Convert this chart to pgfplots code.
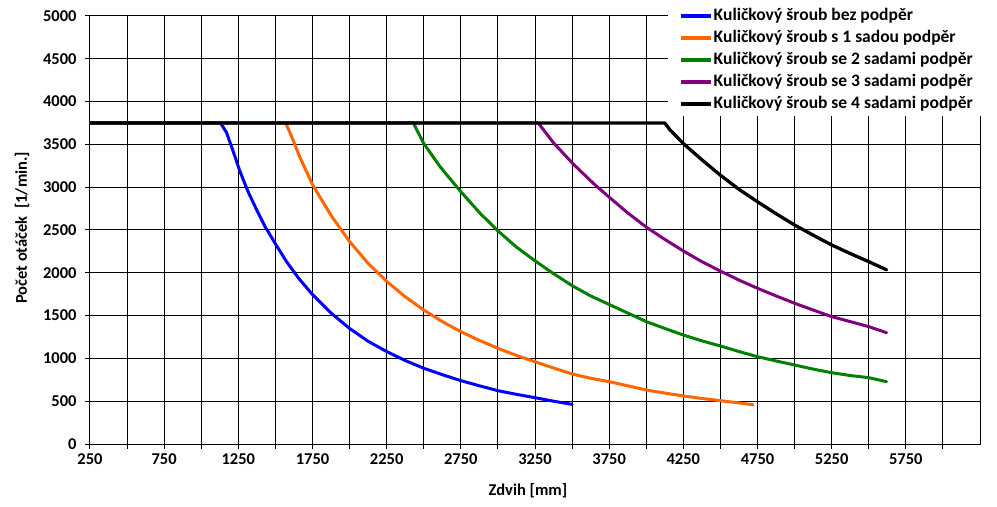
\documentclass[border=0pt]{standalone}
\usepackage{pgfplots}
\pgfplotsset{compat=1.18}
\usepackage{fontspec}
\setmainfont{Carlito}
\definecolor{cblue}{RGB}{0,0,255}
\definecolor{corange}{RGB}{255,102,0}
\definecolor{cgreen}{RGB}{0,128,0}
\definecolor{cpurple}{RGB}{128,0,128}
\begin{document}
\begin{tikzpicture}
\path[use as bounding box] (-90bp,-63bp) rectangle (907bp,444bp);
\begin{axis}[
  at={(0,0)}, anchor=south west,
  scale only axis, width=890bp, height=428bp,
  xmin=250, xmax=6250, ymin=0, ymax=5000,
  xtick={250,750,...,5750},
  minor xtick={500,1000,...,6250},
  ytick={0,500,...,5000},
  grid=both,
  major grid style={black, line width=1bp},
  minor grid style={black, line width=1bp},
  axis line style={black, line width=1bp},
  tick style={black, line width=1bp},
  tick align=outside,
  major tick length=5bp, minor tick length=5bp,
  xtick pos=bottom, ytick pos=left,
  /pgf/number format/1000 sep={},
  /pgf/number format/assume math mode=true,
  ticklabel style={font=\bfseries\fontsize{16.5bp}{19bp}\selectfont},
  yticklabel style={xshift=-5bp},
  xticklabel style={yshift=-1bp},
  label style={font=\bfseries\fontsize{16.5bp}{19bp}\selectfont},
  xlabel={Zdvih [mm]},
  ylabel={Počet otáček~~[1/min.]},
  x label style={at={(axis description cs:0.492,-0.11)}, anchor=center},
  y label style={at={(axis description cs:-0.0764,0.505)}, anchor=center},
  legend cell align=left,
  legend style={at={(axis description cs:1.0056,1.028)}, anchor=north east,
    fill=white, draw=none, font=\bfseries\fontsize{17.5bp}{20bp}\selectfont,
    inner xsep=11bp, inner ysep=3bp, row sep=4bp, column sep=0bp,
    nodes={inner xsep=1bp, inner ysep=1bp, text height=12bp, text depth=4bp}},
  legend image code/.code={\draw[#1, line width=4bp, line cap=butt] (0bp,0bp) -- (30bp,0bp);},
  every axis plot/.append style={line width=3bp, line join=round, line cap=round},
]
\addplot[cblue, mark=none] coordinates {
(250,3750)(1130,3750)(1170,3640)(1215,3420)(1260,3190)(1315,2950)(1375,2730)
(1430,2540)(1510,2310)(1575,2130)(1655,1940)(1750,1745)(1875,1530)(2000,1350)
(2125,1200)(2250,1080)(2375,975)(2500,885)(2625,810)(2750,740)(2875,680)
(3000,623)(3125,580)(3250,541)(3375,500)(3500,463)
};
\addlegendentry{Kuličkový šroub bez podpěr}
\addplot[corange, mark=none] coordinates {
(250,3750)(1570,3750)(1620,3545)(1665,3350)(1750,3030)(1875,2670)(2000,2365)
(2125,2110)(2250,1900)(2375,1720)(2500,1565)(2625,1430)(2750,1312)(2875,1210)
(3000,1118)(3125,1035)(3250,961)(3375,888)(3500,818)(3625,768)(3750,728)
(3875,680)(4000,631)(4125,595)(4250,561)(4375,532)(4500,506)(4625,480)(4720,458)
};
\addlegendentry{Kuličkový šroub s 1 sadou podpěr}
\addplot[cgreen, mark=none] coordinates {
(250,3750)(2430,3750)(2500,3510)(2610,3240)(2740,2967)(2880,2695)(3000,2490)
(3125,2300)(3250,2140)(3375,1990)(3500,1850)(3625,1730)(3750,1630)(3875,1530)
(4000,1430)(4125,1350)(4250,1273)(4375,1205)(4500,1145)(4625,1080)(4750,1020)
(4875,970)(5000,923)(5125,875)(5250,833)(5375,800)(5500,775)(5620,728)
};
\addlegendentry{Kuličkový šroub se 2 sadami podpěr}
\addplot[cpurple, mark=none] coordinates {
(250,3750)(3272,3750)(3374,3520)(3503,3279)(3643,3045)(3751,2882)(3875,2700)
(4003,2530)(4125,2390)(4250,2255)(4375,2130)(4500,2020)(4625,1915)(4750,1819)
(4875,1730)(5000,1644)(5125,1565)(5250,1488)(5375,1430)(5500,1371)(5620,1300)
};
\addlegendentry{Kuličkový šroub se 3 sadami podpěr}
\addplot[black, mark=none, line width=3.3bp] coordinates {
(250,3750)(4125,3750)(4160,3670)(4250,3510)(4375,3320)(4500,3140)(4625,2975)
(4750,2830)(4875,2690)(5000,2558)(5125,2440)(5250,2325)(5375,2225)(5500,2130)
(5620,2035)
};
\addlegendentry{Kuličkový šroub se 4 sadami podpěr}
\end{axis}
\end{tikzpicture}
\end{document}
